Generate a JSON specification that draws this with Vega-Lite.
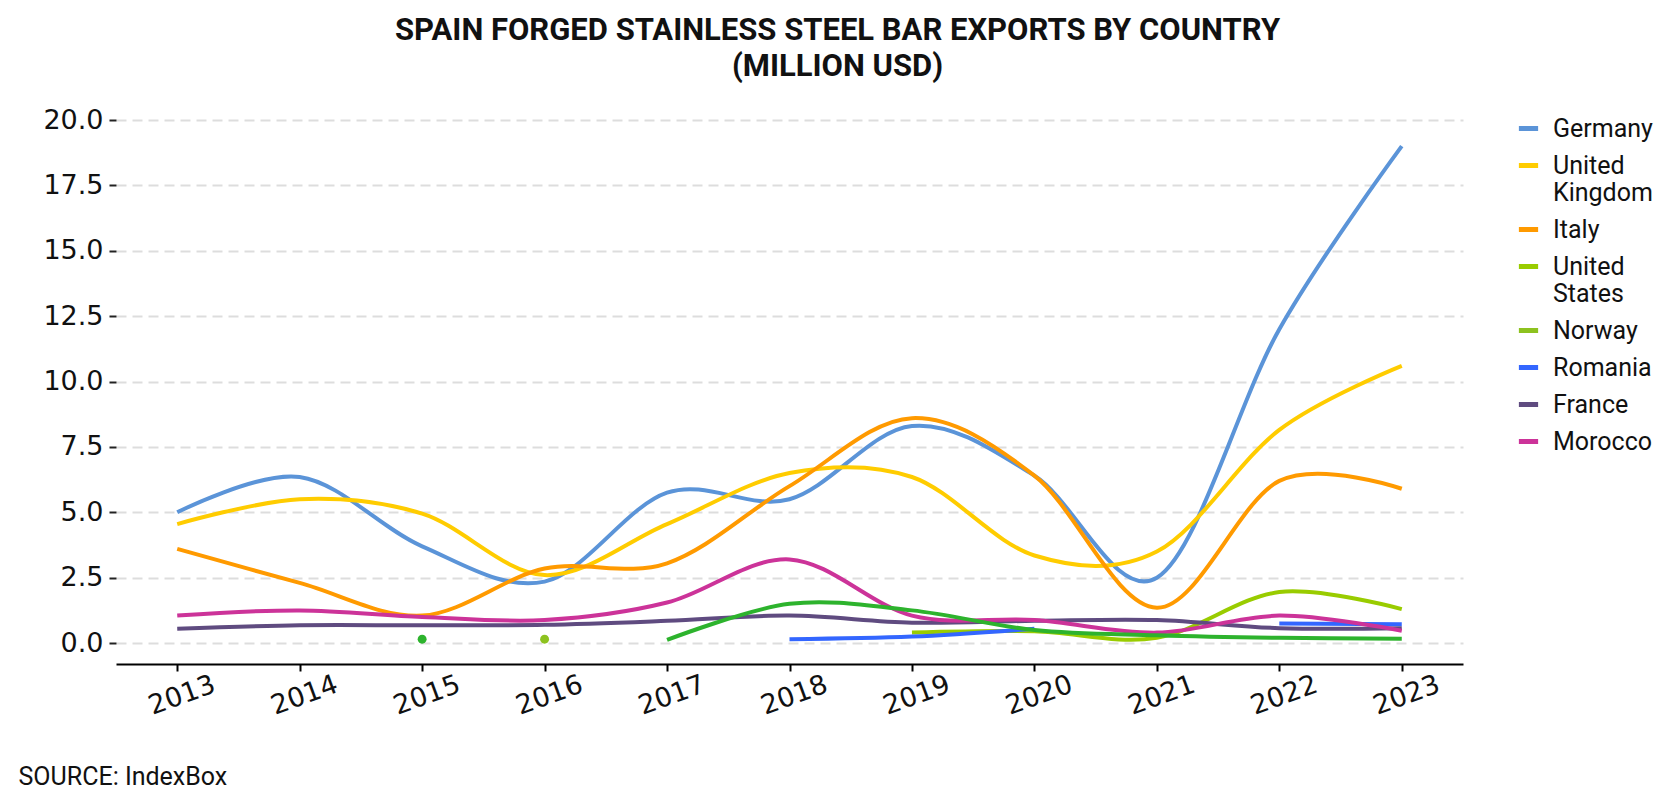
{
  "$schema": "https://vega.github.io/schema/vega-lite/v6.json",
  "width": 1347,
  "height": 544,
  "padding": {"left": 18, "top": 15, "right": 10, "bottom": 10},
  "background": "white",
  "title": {
    "text": ["SPAIN FORGED STAINLESS STEEL BAR EXPORTS BY COUNTRY", "(MILLION USD)"],
    "font": "Roboto",
    "fontWeight": "bold",
    "fontSize": 31,
    "lineHeight": 36,
    "color": "#111111",
    "anchor": "middle",
    "dx": 48,
    "offset": 23
  },
  "data": {
    "values": [
      {"year": 2013, "country": "Germany", "part": 1, "value": 5.0},
      {"year": 2014, "country": "Germany", "part": 1, "value": 6.35},
      {"year": 2015, "country": "Germany", "part": 1, "value": 3.7},
      {"year": 2016, "country": "Germany", "part": 1, "value": 2.35},
      {"year": 2017, "country": "Germany", "part": 1, "value": 5.75},
      {"year": 2018, "country": "Germany", "part": 1, "value": 5.5},
      {"year": 2019, "country": "Germany", "part": 1, "value": 8.3},
      {"year": 2020, "country": "Germany", "part": 1, "value": 6.4},
      {"year": 2021, "country": "Germany", "part": 1, "value": 2.5},
      {"year": 2022, "country": "Germany", "part": 1, "value": 12.0},
      {"year": 2023, "country": "Germany", "part": 1, "value": 19.0},
      {"year": 2013, "country": "United Kingdom", "part": 1, "value": 4.55},
      {"year": 2014, "country": "United Kingdom", "part": 1, "value": 5.5},
      {"year": 2015, "country": "United Kingdom", "part": 1, "value": 4.95},
      {"year": 2016, "country": "United Kingdom", "part": 1, "value": 2.6},
      {"year": 2017, "country": "United Kingdom", "part": 1, "value": 4.55},
      {"year": 2018, "country": "United Kingdom", "part": 1, "value": 6.5},
      {"year": 2019, "country": "United Kingdom", "part": 1, "value": 6.35},
      {"year": 2020, "country": "United Kingdom", "part": 1, "value": 3.35},
      {"year": 2021, "country": "United Kingdom", "part": 1, "value": 3.5},
      {"year": 2022, "country": "United Kingdom", "part": 1, "value": 8.15},
      {"year": 2023, "country": "United Kingdom", "part": 1, "value": 10.6},
      {"year": 2013, "country": "Italy", "part": 1, "value": 3.6},
      {"year": 2014, "country": "Italy", "part": 1, "value": 2.3},
      {"year": 2015, "country": "Italy", "part": 1, "value": 1.05},
      {"year": 2016, "country": "Italy", "part": 1, "value": 2.85},
      {"year": 2017, "country": "Italy", "part": 1, "value": 3.05},
      {"year": 2018, "country": "Italy", "part": 1, "value": 6.0},
      {"year": 2019, "country": "Italy", "part": 1, "value": 8.6},
      {"year": 2020, "country": "Italy", "part": 1, "value": 6.4},
      {"year": 2021, "country": "Italy", "part": 1, "value": 1.35},
      {"year": 2022, "country": "Italy", "part": 1, "value": 6.2},
      {"year": 2023, "country": "Italy", "part": 1, "value": 5.9},
      {"year": 2019, "country": "United States", "part": 1, "value": 0.4},
      {"year": 2020, "country": "United States", "part": 1, "value": 0.45},
      {"year": 2021, "country": "United States", "part": 1, "value": 0.2},
      {"year": 2022, "country": "United States", "part": 1, "value": 1.95},
      {"year": 2023, "country": "United States", "part": 1, "value": 1.3},
      {"year": 2016, "country": "Norway", "part": 1, "value": 0.15},
      {"year": 2018, "country": "Romania", "part": 1, "value": 0.15},
      {"year": 2019, "country": "Romania", "part": 1, "value": 0.25},
      {"year": 2020, "country": "Romania", "part": 1, "value": 0.55},
      {"year": 2022, "country": "Romania", "part": 2, "value": 0.75},
      {"year": 2023, "country": "Romania", "part": 2, "value": 0.72},
      {"year": 2013, "country": "France", "part": 1, "value": 0.55},
      {"year": 2014, "country": "France", "part": 1, "value": 0.68},
      {"year": 2015, "country": "France", "part": 1, "value": 0.68},
      {"year": 2016, "country": "France", "part": 1, "value": 0.7},
      {"year": 2017, "country": "France", "part": 1, "value": 0.85},
      {"year": 2018, "country": "France", "part": 1, "value": 1.05},
      {"year": 2019, "country": "France", "part": 1, "value": 0.78},
      {"year": 2020, "country": "France", "part": 1, "value": 0.85},
      {"year": 2021, "country": "France", "part": 1, "value": 0.88},
      {"year": 2022, "country": "France", "part": 1, "value": 0.57},
      {"year": 2023, "country": "France", "part": 1, "value": 0.57},
      {"year": 2013, "country": "Morocco", "part": 1, "value": 1.05},
      {"year": 2014, "country": "Morocco", "part": 1, "value": 1.25},
      {"year": 2015, "country": "Morocco", "part": 1, "value": 1.0},
      {"year": 2016, "country": "Morocco", "part": 1, "value": 0.88},
      {"year": 2017, "country": "Morocco", "part": 1, "value": 1.55},
      {"year": 2018, "country": "Morocco", "part": 1, "value": 3.2},
      {"year": 2019, "country": "Morocco", "part": 1, "value": 1.05},
      {"year": 2020, "country": "Morocco", "part": 1, "value": 0.88},
      {"year": 2021, "country": "Morocco", "part": 1, "value": 0.4},
      {"year": 2022, "country": "Morocco", "part": 1, "value": 1.05},
      {"year": 2023, "country": "Morocco", "part": 1, "value": 0.47},
      {"year": 2015, "country": "Other", "part": 1, "value": 0.15},
      {"year": 2017, "country": "Other", "part": 2, "value": 0.12},
      {"year": 2018, "country": "Other", "part": 2, "value": 1.5},
      {"year": 2019, "country": "Other", "part": 2, "value": 1.25},
      {"year": 2020, "country": "Other", "part": 2, "value": 0.5},
      {"year": 2021, "country": "Other", "part": 2, "value": 0.3},
      {"year": 2022, "country": "Other", "part": 2, "value": 0.2},
      {"year": 2023, "country": "Other", "part": 2, "value": 0.17}
    ]
  },
  "encoding": {
    "x": {
      "field": "year",
      "type": "quantitative",
      "scale": {"domain": [2012.5, 2023.5], "nice": false, "zero": false},
      "axis": {
        "values": [2013, 2014, 2015, 2016, 2017, 2018, 2019, 2020, 2021, 2022, 2023],
        "format": "d",
        "labelAngle": -20,
        "labelAlign": "center",
        "labelBaseline": "top",
        "labelFont": "DejaVu Sans",
        "labelFontSize": 27,
        "labelColor": "#111111",
        "labelPadding": 12,
        "grid": false,
        "domainColor": "#000000",
        "domainWidth": 2,
        "tickColor": "#000000",
        "tickWidth": 2,
        "tickSize": 7,
        "title": "SOURCE: IndexBox",
        "titleFont": "Roboto",
        "titleFontWeight": "normal",
        "titleFontSize": 25,
        "titleColor": "#111111",
        "titleAlign": "left",
        "titleAnchor": "start",
        "titleBaseline": "alphabetic",
        "titleX": -98,
        "titleY": 120
      }
    },
    "y": {
      "field": "value",
      "type": "quantitative",
      "scale": {"domain": [-0.8, 20], "nice": false, "zero": false},
      "axis": {
        "values": [0, 2.5, 5, 7.5, 10, 12.5, 15, 17.5, 20],
        "format": ".1f",
        "labelFont": "DejaVu Sans",
        "labelFontSize": 27,
        "labelColor": "#111111",
        "labelPadding": 6,
        "domain": false,
        "tickColor": "#222222",
        "tickWidth": 2,
        "tickSize": 7,
        "grid": true,
        "gridColor": "#dddddd",
        "gridWidth": 2,
        "gridDash": [10, 6],
        "title": null
      }
    },
    "color": {
      "field": "country",
      "type": "nominal",
      "scale": {
        "domain": ["Germany", "United Kingdom", "Italy", "United States", "Norway", "Romania", "France", "Morocco", "Other"],
        "range": ["#5b94d8", "#ffcc00", "#ff9a00", "#99cc00", "#8dc21f", "#3366ff", "#5f4b80", "#cc3399", "#2db32d"]
      },
      "legend": {
        "values": ["Germany", "United Kingdom", "Italy", "United States", "Norway", "Romania", "France", "Morocco"],
        "title": null,
        "orient": "none",
        "legendX": 1400,
        "legendY": -4,
        "symbolType": "stroke",
        "symbolStrokeWidth": 5,
        "symbolSize": 370,
        "labelFont": "Roboto",
        "labelFontSize": 25,
        "labelColor": "#111111",
        "labelLineHeight": 25,
        "labelOffset": 12,
        "rowPadding": 11,
        "labelExpr": "datum.label == 'United Kingdom' ? ['United', 'Kingdom'] : datum.label == 'United States' ? ['United', 'States'] : datum.label"
      }
    }
  },
  "layer": [
    {
      "mark": {"type": "line", "interpolate": "cardinal", "strokeWidth": 4},
      "encoding": {"detail": {"field": "part"}}
    },
    {
      "transform": [{"filter": "(datum.country == 'Norway' && datum.year == 2016) || (datum.country == 'Other' && datum.year == 2015)"}],
      "mark": {"type": "point", "filled": true, "size": 80, "opacity": 1},
      "encoding": {}
    }
  ],
  "config": {
    "view": {"stroke": null},
    "legend": {"symbolType": "stroke"}
  }
}
